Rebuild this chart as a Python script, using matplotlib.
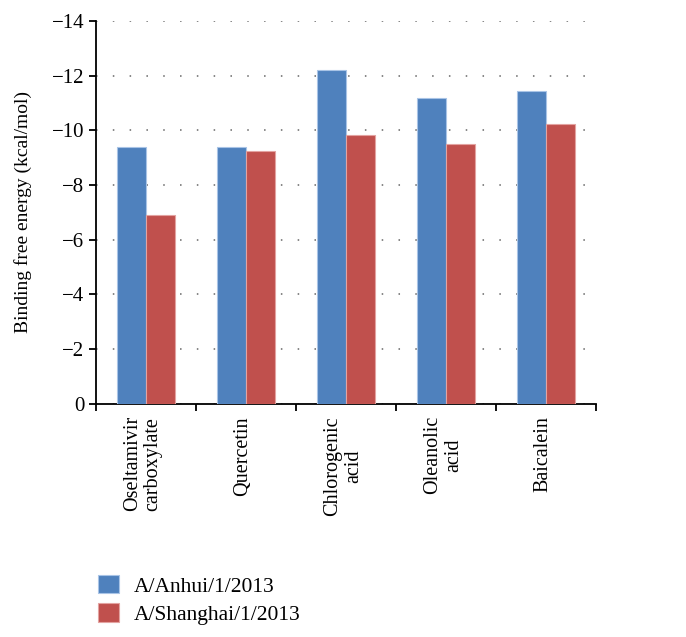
import matplotlib
matplotlib.use("Agg")
import matplotlib.pyplot as plt
import numpy as np

categories = ["Oseltamivir\ncarboxylate", "Quercetin", "Chlorogenic\nacid", "Oleanolic\nacid", "Baicalein"]
anhui = [-9.38, -9.41, -12.21, -11.18, -11.43]
shanghai = [-6.92, -9.25, -9.82, -9.51, -10.22]
series_names = ["A/Anhui/1/2013", "A/Shanghai/1/2013"]

plt.rcParams['font.family'] = ['Liberation Serif', 'DejaVu Serif']

fig = plt.figure(figsize=(6.86, 6.37), dpi=100)
ax = fig.add_axes([0.140, 0.366, 0.729, 0.601])

x = np.arange(len(categories))
w = 0.29
b1 = ax.bar(x - w / 2, anhui, w, color="#4F81BD", edgecolor="#A9C4E6", linewidth=0.8, label=series_names[0], zorder=3)
b2 = ax.bar(x + w / 2, shanghai, w, color="#C0504D", edgecolor="#E3A3A1", linewidth=0.8, label=series_names[1], zorder=3)

# y axis runs from 0 at the bottom to -14 at the top
ax.set_ylim(0, -14)
ax.set_yticks(np.arange(0, -15, -2))
ax.set_xlim(-0.5, len(categories) - 0.5)

# ticks at category boundaries, labels at centres
ax.set_xticks(np.arange(-0.5, len(categories)))
ax.set_xticklabels([])
for i, lab in enumerate(categories):
    ax.text(i - 0.03, 0.45, lab, rotation=90, ha="center", va="top", multialignment="center",
            fontsize=14.5, linespacing=1.1)

ax.yaxis.grid(True, linestyle=(0, (1, 10)), color="#666666", linewidth=1.1, zorder=0)
for s in ["top", "right"]:
    ax.spines[s].set_visible(False)
ax.spines["left"].set_linewidth(1.3)
ax.spines["bottom"].set_linewidth(1.3)
ax.tick_params(axis="both", direction="out", length=5, width=1.3, labelsize=15)
ax.set_ylabel("Binding free energy (kcal/mol)", fontsize=14, labelpad=14)

fig.legend(handles=[b1, b2], loc="upper left", bbox_to_anchor=(0.115, 0.128), frameon=False,
           fontsize=15.5, handlelength=0.95, handleheight=0.95, handletextpad=0.7, labelspacing=0.3)

fig.savefig("out.png", dpi=100)
